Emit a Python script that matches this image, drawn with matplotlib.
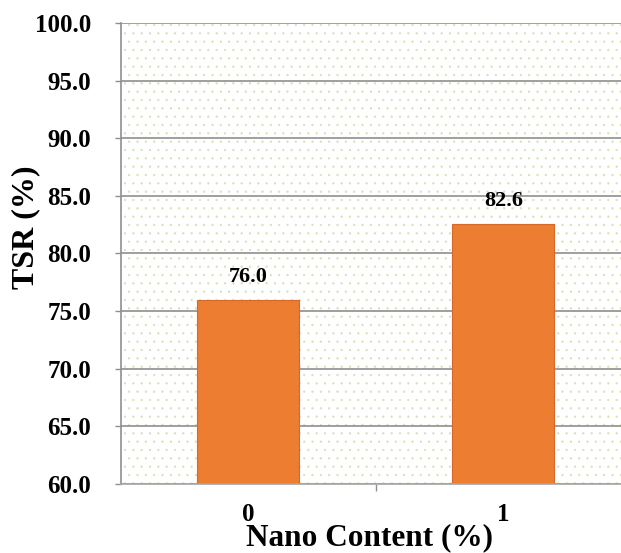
import numpy as np
import matplotlib
matplotlib.use("Agg")
import matplotlib.pyplot as plt
from matplotlib.patches import Rectangle

# data
nano_content = ["0", "1"]
tsr_values = [76.0, 82.6]
y_ticks = [60, 65, 70, 75, 80, 85, 90, 95, 100]

plt.rcParams['font.family'] = ['Liberation Serif', 'DejaVu Serif']
plt.rcParams['font.weight'] = 'bold'
plt.rcParams['hatch.linewidth'] = 0.4

fig = plt.figure(figsize=(6.21, 5.53), dpi=100)
ax = fig.add_axes([0.1948, 0.1248, 0.8213, 0.8336])

# dotted background (Excel-like pattern fill)
bg = Rectangle((0, 0), 1, 1, transform=ax.transAxes, facecolor='none',
               edgecolor='#d3e2b8', lw=0, hatch='..', zorder=0.1)
ax.add_patch(bg)

x = np.arange(len(nano_content))
bars = ax.bar(x, tsr_values, width=0.40, color='#ED7D31',
              edgecolor='#D4692A', linewidth=0.8, zorder=2)

for xi, v in zip(x, tsr_values):
    ax.annotate(f"{v:.1f}", (xi, v), xytext=(0, 9), textcoords='offset points',
                ha='center', va='bottom', fontsize=16, fontweight='bold')

ax.set_xlim(-0.5, 1.5)
ax.set_ylim(60, 100)
ax.set_yticks(y_ticks)
ax.set_yticklabels([f"{t:.1f}" for t in y_ticks])
ax.set_xticks(x)
ax.set_xticklabels(nano_content)
ax.set_xticks([0.5], minor=True)

ax.yaxis.grid(True, color='#8f8f8f', linewidth=1.2)
ax.set_axisbelow(True)

for s in ['top', 'right']:
    ax.spines[s].set_visible(False)
ax.spines['left'].set_color('#8f8f8f')
ax.spines['left'].set_linewidth(1.2)
ax.spines['bottom'].set_color('#a6a6a6')
ax.spines['bottom'].set_linewidth(1.2)

ax.tick_params(axis='y', direction='out', length=4.5, width=1.0, color='#8f8f8f',
               pad=17, labelsize=18)
ax.tick_params(axis='x', which='major', length=0, pad=14, labelsize=18)
ax.tick_params(axis='x', which='minor', direction='out', length=5, width=1.0,
               color='#8f8f8f')

ax.set_ylabel("TSR (%)", fontsize=23, fontweight='bold')
ax.yaxis.label.set_va('center')
ax.yaxis.set_label_coords(-0.186, 0.557)
ax.set_xlabel("Nano Content (%)", fontsize=22.5, fontweight='bold')
ax.xaxis.label.set_va('center')
ax.xaxis.set_label_coords(0.488, -0.117)

fig.savefig("out.png", dpi=100)
